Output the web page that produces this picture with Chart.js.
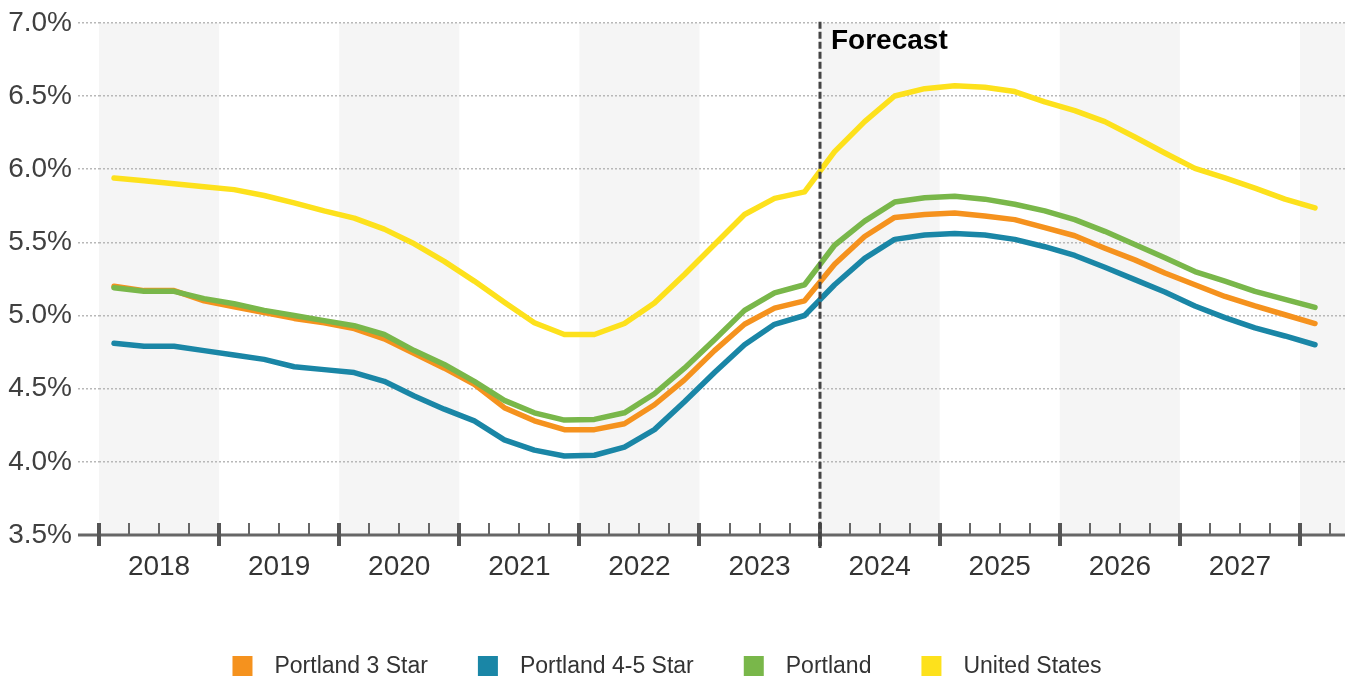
<!DOCTYPE html>
<html>
<head>
<meta charset="utf-8">
<script src="https://cdn.jsdelivr.net/npm/chart.js@4.4.1/dist/chart.umd.min.js"></script>
<style>
  html, body { margin: 0; padding: 0; background: #fff; }
  #wrap { width: 1358px; height: 681px; }
</style>
</head>
<body>
<div id="wrap"><canvas id="capRateChart" width="1358" height="681"></canvas></div>
<script>
// ---- data: quarterly cap rates, 2018 Q1 .. 2028 Q1 ----
const years = ['2018', '2019', '2020', '2021', '2022', '2023', '2024', '2025', '2026', '2027'];
const forecastStartQuarter = 24; // 2024 Q1

const portland3Star = [
  5.20, 5.17, 5.17, 5.10, 5.06, 5.02, 4.98, 4.95, 4.91, 4.84,
  4.74, 4.64, 4.53, 4.37, 4.28, 4.22, 4.22, 4.26, 4.39, 4.56,
  4.76, 4.94, 5.05, 5.10, 5.35, 5.54, 5.67, 5.69, 5.70, 5.68,
  5.655, 5.60, 5.545, 5.46, 5.38, 5.29, 5.21, 5.13, 5.065, 5.005,
  4.945
];
const portland45Star = [
  4.81, 4.79, 4.79, 4.76, 4.73, 4.70, 4.65, 4.63, 4.61, 4.55,
  4.45, 4.36, 4.28, 4.15, 4.08, 4.04, 4.045, 4.10, 4.22, 4.41,
  4.61, 4.80, 4.94, 5.00, 5.21, 5.39, 5.52, 5.55, 5.56, 5.55,
  5.52, 5.47, 5.41, 5.33, 5.245, 5.16, 5.065, 4.985, 4.915, 4.86,
  4.80
];
const portlandAll = [
  5.19, 5.165, 5.165, 5.115, 5.08, 5.035, 5.00, 4.965, 4.93, 4.87,
  4.76, 4.665, 4.55, 4.42, 4.335, 4.285, 4.29, 4.335, 4.465, 4.64,
  4.835, 5.035, 5.155, 5.21, 5.48, 5.645, 5.775, 5.805, 5.815, 5.795,
  5.76, 5.715, 5.655, 5.575, 5.485, 5.395, 5.30, 5.235, 5.165, 5.11,
  5.055
];
const unitedStates = [
  5.94, 5.92, 5.90, 5.88, 5.86, 5.82, 5.77, 5.715, 5.665, 5.59,
  5.49, 5.37, 5.235, 5.09, 4.95, 4.87, 4.87, 4.945, 5.085, 5.28,
  5.485, 5.69, 5.80, 5.845, 6.12, 6.325, 6.50, 6.55, 6.57, 6.56,
  6.53, 6.46, 6.40, 6.325, 6.22, 6.11, 6.005, 5.94, 5.87, 5.795,
  5.735
];

const yTicks = [3.5, 4.0, 4.5, 5.0, 5.5, 6.0, 6.5, 7.0];

const FONT = '"Liberation Sans", Arial, sans-serif';

// quarter i sits in the middle of its 1-unit slot on the x scale
const toPoints = arr => arr.map((v, i) => ({ x: i + 0.5, y: v }));

// alternating shaded year columns behind the plot
const yearBands = {
  id: 'yearBands',
  beforeDraw(chart) {
    const { ctx, chartArea, scales: { x } } = chart;
    ctx.save();
    ctx.fillStyle = '#f5f5f5';
    for (let q = 0; q < x.max; q += 8) {
      const l = x.getPixelForValue(q);
      const r = x.getPixelForValue(Math.min(q + 4, x.max));
      ctx.fillRect(l, chartArea.top, r - l, chartArea.bottom - chartArea.top);
    }
    ctx.restore();
  }
};

// x axis line with quarter / year tick marks, plus the forecast divider
const axisAndForecast = {
  id: 'axisAndForecast',
  afterDatasetsDraw(chart) {
    const { ctx, chartArea, scales: { x, y } } = chart;
    const base = y.getPixelForValue(yTicks[0]);
    ctx.save();
    ctx.strokeStyle = '#666';
    ctx.lineWidth = 3;
    ctx.beginPath();
    ctx.moveTo(chartArea.left - 21, base);
    ctx.lineTo(chartArea.right, base);
    ctx.stroke();

    for (let q = 0; q <= Math.floor(x.max); q++) {
      const px = Math.round(x.getPixelForValue(q));
      const major = q % 4 === 0;
      ctx.strokeStyle = major ? '#555' : '#666';
      ctx.lineWidth = major ? 4 : 2;
      ctx.beginPath();
      ctx.moveTo(px, base - 12);
      ctx.lineTo(px, major ? base + 11 : base);
      ctx.stroke();
    }

    const fx = Math.round(x.getPixelForValue(forecastStartQuarter));
    ctx.strokeStyle = '#444';
    ctx.lineWidth = 3;
    ctx.setLineDash([7, 3]);
    ctx.beginPath();
    ctx.moveTo(fx, chartArea.top - 1);
    ctx.lineTo(fx, base + 13);
    ctx.stroke();
    ctx.setLineDash([]);

    ctx.fillStyle = '#000';
    ctx.font = 'bold 28px ' + FONT;
    ctx.textBaseline = 'alphabetic';
    ctx.textAlign = 'left';
    ctx.fillText('Forecast', fx + 11, chartArea.top + 26);
    ctx.restore();
  }
};

// centred legend row under the axis
const bottomLegend = {
  id: 'bottomLegend',
  afterDraw(chart) {
    const ctx = chart.ctx;
    const box = 20, gap = 22, spacing = 50, cy = 666, cx = 667;
    ctx.save();
    ctx.font = '23px ' + FONT;
    const items = chart.data.datasets.map(ds => ({
      text: ds.label, color: ds.borderColor, w: ctx.measureText(ds.label).width
    }));
    const total = items.reduce((s, it) => s + box + gap + it.w, 0) + spacing * (items.length - 1);
    let lx = cx - total / 2;
    ctx.textBaseline = 'middle';
    ctx.textAlign = 'left';
    items.forEach(it => {
      ctx.fillStyle = it.color;
      ctx.fillRect(lx, cy - box / 2, box, box);
      ctx.fillStyle = '#333';
      ctx.fillText(it.text, lx + box + gap, cy + 1);
      lx += box + gap + it.w + spacing;
    });
    ctx.restore();
  }
};

const lineStyle = color => ({
  borderColor: color,
  backgroundColor: color,
  borderWidth: 5.5,
  borderCapStyle: 'round',
  borderJoinStyle: 'round',
  pointRadius: 0,
  tension: 0,
  fill: false
});

new Chart(document.getElementById('capRateChart'), {
  type: 'line',
  data: {
    datasets: [
      { label: 'Portland 3 Star', data: toPoints(portland3Star), order: 1, ...lineStyle('#f5921e') },
      { label: 'Portland 4-5 Star', data: toPoints(portland45Star), order: 2, ...lineStyle('#1a86a6') },
      { label: 'Portland', data: toPoints(portlandAll), order: 0, ...lineStyle('#79b74a') },
      { label: 'United States', data: toPoints(unitedStates), order: 3, ...lineStyle('#fde11c') }
    ]
  },
  options: {
    responsive: false,
    animation: false,
    events: [],
    layout: { padding: { left: 0, right: 13, top: 21, bottom: 0 } },
    plugins: { legend: { display: false }, tooltip: { enabled: false } },
    scales: {
      x: {
        type: 'linear',
        min: 0,
        max: 41.5,
        afterFit: s => { s.height = 146; },
        afterBuildTicks: s => {
          const t = [];
          for (let q = 0; q <= 41; q++) t.push({ value: q });
          s.ticks = t;
        },
        grid: { display: false, drawTicks: false },
        border: { display: false },
        ticks: {
          autoSkip: false,
          maxRotation: 0,
          padding: 15,
          color: '#333',
          font: { family: FONT, size: 28 },
          callback: v => (v % 4 === 2 ? years[(v - 2) / 4] : '')
        }
      },
      y: {
        min: 3.5,
        max: 7.0,
        afterFit: s => { s.width = 99; },
        afterBuildTicks: s => { s.ticks = yTicks.map(v => ({ value: v })); },
        grid: {
          color: '#b8b8b8',
          lineWidth: 1.5,
          tickLength: 21,
          tickColor: '#b8b8b8',
          tickBorderDash: [2, 2]
        },
        border: { display: false, dash: [2, 2] },
        ticks: {
          padding: 6,
          color: '#404040',
          font: { family: FONT, size: 28 },
          callback: v => v.toFixed(1) + '%'
        }
      }
    }
  },
  plugins: [yearBands, axisAndForecast, bottomLegend]
});
</script>
</body>
</html>
